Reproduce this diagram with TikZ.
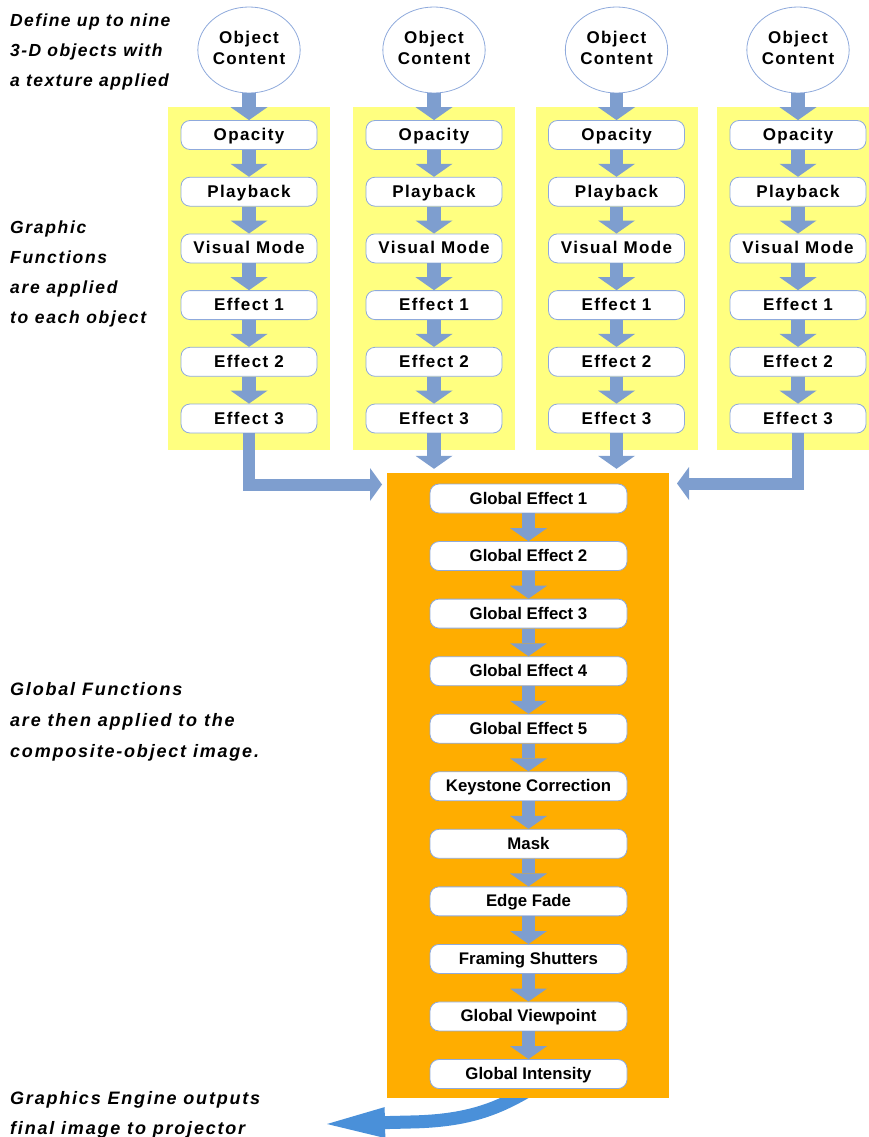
\documentclass[tikz,border=0pt]{standalone}
\usepackage{fontspec}
\setmainfont{Liberation Sans}
\newfontfamily\spaced[LetterSpace=8]{Liberation Sans}
\newfontfamily\spacedb[LetterSpace=9.5]{Liberation Sans}
\newfontfamily\spacedc[LetterSpace=10]{Liberation Sans}
\usetikzlibrary{arrows.meta,shapes.geometric,calc}
\definecolor{yel}{RGB}{255,255,128}
\definecolor{org}{RGB}{255,173,0}
\definecolor{arr}{RGB}{126,158,207}
\definecolor{bord}{RGB}{143,170,220}
\definecolor{fin}{RGB}{74,144,217}
\pgfdeclarelayer{bg}
\pgfsetlayers{bg,main}
\tikzset{
  fbox/.style={draw=bord, line width=0.8pt, fill=white, rounded corners=9pt,
    minimum width=136pt, minimum height=29pt, inner sep=0pt,
    font=\spaced\bfseries\fontsize{17}{20}\selectfont, text height=13pt, text depth=2pt},
  gbox/.style={draw=bord, line width=0.8pt, fill=white, rounded corners=9pt,
    minimum width=197pt, minimum height=29pt, inner sep=0pt,
    font=\bfseries\fontsize{16.8}{20}\selectfont, text height=13pt, text depth=2pt},
  obj/.style={ellipse, draw=bord, line width=0.8pt, fill=white,
    minimum width=95pt, minimum height=86pt, inner sep=0pt, align=center,
    font=\spaced\bfseries\fontsize{17}{20.7}\selectfont, text depth=5pt},
  blk/.style={arr, line width=13.5pt, -{Triangle[width=37pt,length=13pt,line width=0pt]}},
  elbow/.style={arr, line width=12pt, line join=miter, -{Triangle[width=33pt,length=12pt,line width=0pt]}},
  lbl/.style={anchor=base west, align=left, inner sep=0pt},
}
\begin{document}
\begin{tikzpicture}[x=1pt,y=-1pt]
\path[use as bounding box] (0,0) rectangle (869,1137);

% column backgrounds
\begin{pgfonlayer}{bg}
\foreach \xc in {249,434,616.5,798}{
  \fill[yel] (\xc-81,107) rectangle (\xc+81,450);
}
\end{pgfonlayer}

% left texts (anchored at the baseline of their last line)
\node[lbl, font=\spaced\bfseries\itshape\fontsize{17.5}{30}\selectfont] (t1) at (10,87) {Define up to nine\\3-D objects with\\a texture applied};
\node[lbl, font=\spacedb\bfseries\itshape\fontsize{17.5}{29.7}\selectfont] (t2) at (10,323) {Graphic\\Functions\\are applied\\to each object};
\node[lbl, font=\spacedc\bfseries\itshape\fontsize{18}{31}\selectfont] (t3) at (10,757) {Global Functions\\are then applied to the\\composite-object image.};
\node[lbl, font=\spacedc\bfseries\itshape\fontsize{18}{30}\selectfont] (t4) at (10,1134) {Graphics Engine outputs\\final image to projector};

% columns
\foreach \xc/\c in {249/1,434/2,616.5/3,798/4}{
  \node[obj] (o\c) at (\xc,50) {Object\\Content};
  \foreach \lab [count=\i] in {Opacity,Playback,Visual Mode,Effect 1,Effect 2,Effect 3}{
    \node[fbox] (b\c-\i) at (\xc,{135+56.7*(\i-1)}) {\lab};
  }
  \draw[blk] (o\c) -- (b\c-1);
  \foreach \i in {1,...,5}{
    \pgfmathtruncatemacro{\j}{\i+1}
    \draw[blk] (b\c-\i) -- (b\c-\j);
  }
}

% global block
\node[fill=org, minimum width=282pt, minimum height=625pt, inner sep=0pt] (orange) at (528,785.5) {};
\foreach \lab [count=\i] in {Global Effect 1,Global Effect 2,Global Effect 3,Global Effect 4,Global Effect 5,Keystone Correction,Mask,Edge Fade,Framing Shutters,Global Viewpoint,Global Intensity}{
  \node[gbox] (g\i) at (528.5,{498.5+57.55*(\i-1)}) {\lab};
}
\foreach \i in {1,...,10}{
  \pgfmathtruncatemacro{\j}{\i+1}
  \draw[blk] (g\i) -- (g\j);
}

% connections into global block
\coordinate (e1) at (382,484.5);
\coordinate (e4) at (677,483.5);
\draw[elbow] (b1-6.south) |- (e1);
\draw[elbow] (b4-6.south) |- (e4);
\draw[blk] (b2-6) -- ($(b2-6.south |- orange.north)+(0,-4)$);
\draw[blk] (b3-6) -- ($(b3-6.south |- orange.north)+(0,-4)$);

% output arrow
\coordinate (fs) at (536,1086);
\coordinate (fe) at (327,1124);
\begin{pgfonlayer}{bg}
\draw[fin, line width=13pt, -{Triangle[width=31pt,length=58pt,line width=0pt]}]
  (fs) .. controls (500,1108) and (470,1121) .. (410,1122) -- (fe);
\end{pgfonlayer}
\end{tikzpicture}
\end{document}
